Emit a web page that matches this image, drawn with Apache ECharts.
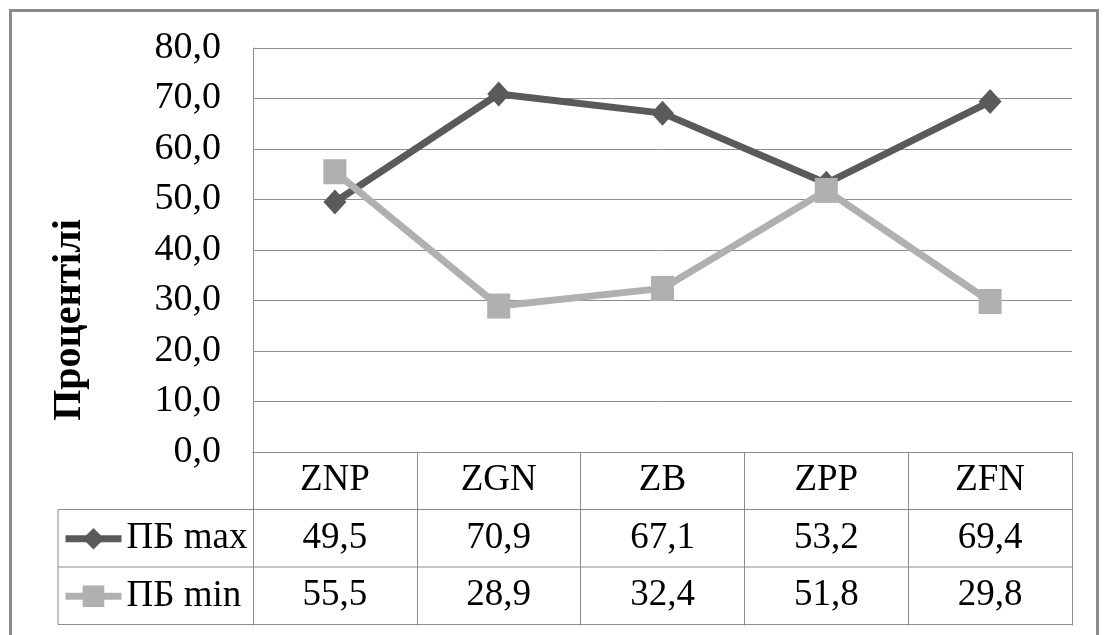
<!DOCTYPE html>
<html>
<head>
<meta charset="utf-8">
<script src="https://cdn.jsdelivr.net/npm/echarts@6/dist/echarts.min.js"></script>
<style>
  html, body { margin: 0; padding: 0; background: #fff; }
  #chart { width: 1104px; height: 635px; }
</style>
</head>
<body>
<div id="chart"></div>
<script>
// ---- data ----
const categories = ['ZNP', 'ZGN', 'ZB', 'ZPP', 'ZFN'];
const pbMax = [49.5, 70.9, 67.1, 53.2, 69.4];
const pbMin = [55.5, 28.9, 32.4, 51.8, 29.8];
const seriesNames = ['ПБ max', 'ПБ min'];
const yAxisTitle = 'Процентілі';
const yMin = 0, yMax = 80, yStep = 10;

// ---- layout / style ----
const FONT = 'Liberation Serif';
const GRID_COLOR = '#8c8c8c';
const DARK = '#5a5a5a';
const LIGHT = '#b0b0b0';
const LINE_W = 7;
const plotLeft = 253, plotRight = 1072, plotTop = 48, plotBottom = 452;
const rowH = 57.5;
const tableLeft = 58;
const fmt = v => v.toFixed(1).replace('.', ',');

const chart = echarts.init(document.getElementById('chart'), null, { renderer: 'canvas' });

const rowLines = [1, 2, 3].map(i => ({
  type: 'line',
  shape: { x1: tableLeft, y1: plotBottom + i * rowH, x2: plotRight, y2: plotBottom + i * rowH },
  style: { stroke: GRID_COLOR, lineWidth: 1 },
  subPixelOptimize: true
}));

const legendBase = {
  orient: 'horizontal',
  left: 62,
  padding: 0,
  itemWidth: 56,
  itemHeight: 27,
  lineStyle: { width: LINE_W },
  textStyle: { fontFamily: FONT, fontSize: 37, color: '#000' }
};

chart.setOption({
  backgroundColor: '#fff',
  animation: false,
  textStyle: { fontFamily: FONT },
  grid: {
    left: plotLeft, right: 1104 - plotRight, top: plotTop, bottom: 635 - plotBottom,
    containLabel: false
  },
  legend: seriesNames.map((name, i) => Object.assign({}, legendBase, {
    data: [name],
    top: plotBottom + rowH * (1.5 + i) - 18
  })),
  xAxis: {
    type: 'category',
    data: categories,
    boundaryGap: true,
    axisLine: { show: true, lineStyle: { color: GRID_COLOR, width: 1 } },
    axisTick: { show: true, alignWithLabel: false, interval: 0, length: rowH * 3 + 1, inside: false,
      lineStyle: { color: GRID_COLOR, width: 1 } },
    splitLine: { show: false },
    axisLabel: {
      interval: 0,
      margin: 0,
      fontFamily: FONT,
      fontSize: 37,
      color: '#000',
      lineHeight: rowH,
      formatter: (value, idx) => [value, fmt(pbMax[idx]), fmt(pbMin[idx])].join('\n')
    }
  },
  yAxis: {
    type: 'value',
    min: yMin, max: yMax, interval: yStep,
    axisLine: { show: true, lineStyle: { color: GRID_COLOR, width: 1 } },
    axisTick: { show: false },
    splitLine: { show: true, lineStyle: { color: GRID_COLOR, width: 1 } },
    axisLabel: {
      margin: 32,
      fontFamily: FONT,
      fontSize: 38,
      color: '#000',
      formatter: v => fmt(v)
    }
  },
  graphic: [
    {
      type: 'rect',
      shape: { x: 10.5, y: 10.5, width: 1087, height: 700 },
      style: { fill: 'none', stroke: '#8a8a8a', lineWidth: 3 },
      z: 100
    },
    {
      type: 'text',
      x: 70, y: 320,
      rotation: Math.PI / 2,
      style: {
        text: yAxisTitle,
        font: 'bold 40px "Liberation Serif"',
        fill: '#000',
        align: 'center',
        verticalAlign: 'middle'
      }
    },
    ...rowLines,
    {
      type: 'line',
      shape: { x1: tableLeft, y1: plotBottom + rowH, x2: tableLeft, y2: plotBottom + 3 * rowH },
      style: { stroke: GRID_COLOR, lineWidth: 1 },
      subPixelOptimize: true
    }
  ],
  series: [
    {
      name: seriesNames[0],
      type: 'line',
      data: pbMax,
      symbol: 'diamond',
      symbolSize: [23, 25],
      lineStyle: { color: DARK, width: LINE_W },
      itemStyle: { color: DARK },
      z: 3
    },
    {
      name: seriesNames[1],
      type: 'line',
      data: pbMin,
      symbol: 'rect',
      symbolSize: [23, 25],
      lineStyle: { color: LIGHT, width: LINE_W },
      itemStyle: { color: LIGHT },
      z: 4
    }
  ]
});
</script>
</body>
</html>
